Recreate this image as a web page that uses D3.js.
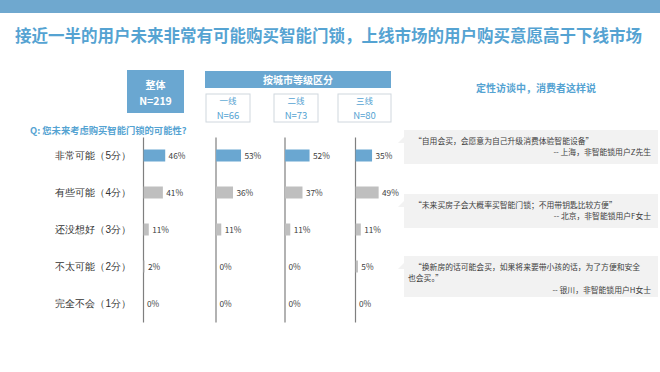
<!DOCTYPE html>
<html>
<head>
<meta charset="utf-8">
<style type="text/css">
body {
	margin: 0;
	background: #fff;
	font-family: "Noto Sans CJK SC", "Noto Sans", sans-serif;
}
.axis path {
	stroke: #7f7f7f;
	stroke-width: 1.2;
}
.axis text {
	font-size: 10px;
	fill: #333;
}
.val {
	font-size: 8.3px;
	fill: #404040;
}
.quote {
	font-size: 7.8px;
	fill: #404040;
}
</style>
<script src="https://d3js.org/d3.v7.min.js"></script>
</head>
<body>
<script type="text/javascript">
var width  = 660;
var height = 372;

var categories = ["非常可能（5分）", "有些可能（4分）", "还没想好（3分）", "不太可能（2分）", "完全不会（1分）"];
var overall = [46, 41, 11, 2, 0];
var tier1 = [53, 36, 11, 0, 0];
var tier2 = [52, 37, 11, 0, 0];
var tier3 = [35, 49, 11, 5, 0];
var groupNames = ["一线", "二线", "三线"];
var groupN = ["N=66", "N=73", "N=80"];

var blue = "#6aa7d1";
var grey = "#bfbfbf";
var titleBlue = "#55a3d2";

var svg = d3.select("body").append("svg").attr("width", width).attr("height", height);

// top band + title
svg.append("rect").attr("x", 0).attr("y", 0).attr("width", width).attr("height", 13).attr("fill", "#6fa8cf");
svg.append("text").attr("x", 15).attr("y", 42)
	.attr("font-size", "16.5px").attr("font-weight", "bold").attr("fill", titleBlue)
	.text("接近一半的用户未来非常有可能购买智能门锁，上线市场的用户购买意愿高于下线市场");

// header boxes
svg.append("rect").attr("x", 127).attr("y", 70).attr("width", 57).attr("height", 43).attr("fill", blue);
svg.append("text").attr("x", 155.5).attr("y", 89).attr("text-anchor", "middle").attr("fill", "#fff")
	.attr("font-size", "10px").attr("font-weight", "bold").text("整体");
svg.append("text").attr("x", 155.5).attr("y", 105).attr("text-anchor", "middle").attr("fill", "#fff")
	.attr("font-size", "10.5px").attr("font-weight", "bold").text("N=219");

svg.append("rect").attr("x", 205).attr("y", 71).attr("width", 186).attr("height", 17).attr("fill", blue);
svg.append("text").attr("x", 298).attr("y", 83.5).attr("text-anchor", "middle").attr("fill", "#fff")
	.attr("font-size", "10px").attr("font-weight", "bold").text("按城市等级区分");

var subX = [206, 274, 338];
var subW = [44, 44, 53];
subX.forEach(function(x, i) {
	svg.append("rect").attr("x", x).attr("y", 94).attr("width", subW[i]).attr("height", 28)
		.attr("fill", "#fff").attr("stroke", "#d0d7de").attr("stroke-width", 1);
	svg.append("text").attr("x", x + subW[i] / 2).attr("y", 104).attr("text-anchor", "middle")
		.attr("fill", titleBlue).attr("font-size", "8.5px").text(groupNames[i]);
	svg.append("text").attr("x", x + subW[i] / 2).attr("y", 118.5).attr("text-anchor", "middle")
		.attr("fill", titleBlue).attr("font-size", "9.5px").text(groupN[i]);
});

svg.append("text").attr("x", 30).attr("y", 134).attr("fill", titleBlue)
	.attr("font-size", "9.3px").attr("font-weight", "bold").text("Q: 您未来考虑购买智能门锁的可能性?");

// bars
var y = d3.scaleBand().domain(categories).range([137, 322]);
var x = d3.scaleLinear().domain([0, 100]).range([0, 47]);
var panels = [
	{ x0: 143, vals: overall, labels: true },
	{ x0: 215.5, vals: tier1 },
	{ x0: 284.5, vals: tier2 },
	{ x0: 355, vals: tier3 }
];

panels.forEach(function(p) {
	var axis = d3.axisLeft(y).tickSize(0).tickPadding(12);
	if (!p.labels) axis.tickFormat("");
	svg.append("g").attr("class", "axis").attr("transform", "translate(" + p.x0 + ",0)").call(axis);

	var g = svg.append("g").attr("transform", "translate(" + p.x0 + ",0)");
	g.selectAll("rect").data(p.vals).enter().append("rect")
		.attr("x", 0.6)
		.attr("y", function(d, i) { return y(categories[i]) + y.bandwidth() / 2 - 6; })
		.attr("width", function(d) { return x(d); })
		.attr("height", 12)
		.attr("fill", function(d, i) { return i === 0 ? blue : grey; });
	g.selectAll("text.val").data(p.vals).enter().append("text").attr("class", "val")
		.attr("x", function(d) { return x(d) + 4; })
		.attr("y", function(d, i) { return y(categories[i]) + y.bandwidth() / 2 + 3; })
		.text(function(d) { return d + "%"; });
});

// right side quotes
svg.append("text").attr("x", 536).attr("y", 92).attr("text-anchor", "middle").attr("fill", titleBlue)
	.attr("font-size", "10px").attr("font-weight", "bold").text("定性访谈中，消费者这样说");

var quotes = [
	{ y: 130, h: 34, lines: ["“自用会买，会愿意为自己升级消费体验智能设备”"], by: "-- 上海，非智能锁用户Z先生" },
	{ y: 194, h: 34, lines: ["“未来买房子会大概率买智能门锁；不用带钥匙比较方便”"], by: "-- 北京，非智能锁用户F女士" },
	{ y: 256, h: 41, lines: ["“换新房的话可能会买，如果将来要带小孩的话，为了方便和安全", "也会买。”"], by: "-- 银川，非智能锁用户H女士" }
];
quotes.forEach(function(q) {
	svg.append("rect").attr("x", 404).attr("y", q.y).attr("width", 254).attr("height", q.h).attr("fill", "#f2f2f2");
	svg.append("path").attr("d", "M404," + (q.y + 7) + " L398," + (q.y + 13) + " L404," + (q.y + 13) + " Z").attr("fill", "#f2f2f2");
	q.lines.forEach(function(l, i) {
		svg.append("text").attr("class", "quote").attr("x", i === 0 ? 414 : 408).attr("y", q.y + 13.5 + i * 11.5).text(l);
	});
	svg.append("text").attr("class", "quote").attr("x", 651).attr("y", q.y + 13.5 + q.lines.length * 11.5)
		.attr("text-anchor", "end").text(q.by);
});
</script>
</body>
</html>
